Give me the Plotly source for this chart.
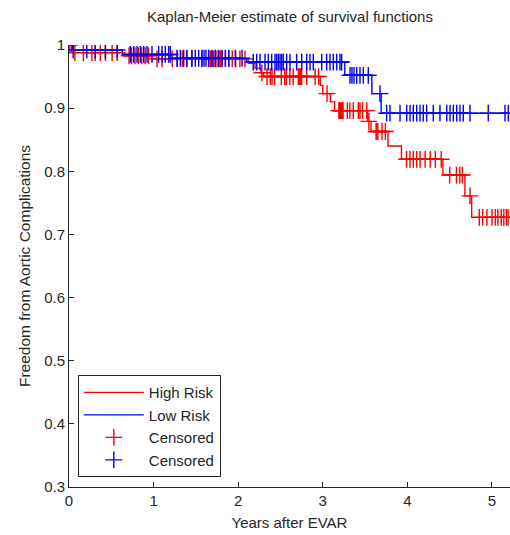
import bisect
import plotly.graph_objects as go

# ---- data ----
red_times = [0, 0.03, 0.66, 0.98, 2.12, 2.20, 2.27, 2.30, 2.97, 3.00, 3.09, 3.14,
             3.53, 3.57, 3.77, 3.93, 4.42, 4.68, 4.76, 5.20]
red_surv = [1.0, 0.988, 0.983, 0.978, 0.971, 0.963, 0.956, 0.950, 0.936, 0.923, 0.910, 0.896,
            0.879, 0.863, 0.840, 0.819, 0.794, 0.761, 0.727, 0.727]

blue_times = [0, 0.04, 0.63, 1.22, 2.10, 3.26, 3.58, 3.69, 5.20]
blue_surv = [1.0, 0.992, 0.985, 0.979, 0.973, 0.952, 0.923, 0.892, 0.892]

red_censored = [0.01, 0.07, 0.17, 0.27, 0.31, 0.37, 0.43, 0.51, 0.57,
                0.71, 0.74, 0.78, 0.82, 0.86, 0.90, 0.94,
                1.04, 1.10, 1.22, 1.28, 1.34, 1.39, 1.45, 1.57, 1.65, 1.67, 1.69, 1.71,
                1.73, 1.75, 1.77, 1.79, 1.81, 1.85, 1.89, 1.93, 1.97, 2.02, 2.08,
                2.28, 2.34, 2.38, 2.40, 2.43, 2.51, 2.55, 2.57, 2.61, 2.65, 2.71, 2.72,
                2.73, 2.74, 2.75, 2.81, 2.91, 2.95, 3.05,
                3.19, 3.20, 3.21, 3.22, 3.23, 3.24, 3.29, 3.32, 3.36, 3.42, 3.44, 3.47, 3.52,
                3.545, 3.63, 3.64, 3.65, 3.70, 3.74,
                3.99, 4.03, 4.07, 4.11, 4.15, 4.21, 4.27, 4.33, 4.40,
                4.50, 4.58, 4.62, 4.65, 4.74,
                4.85, 4.89, 4.94, 5.00, 5.04, 5.07, 5.11, 5.14, 5.17, 5.19]

blue_censored = [0.05, 0.21, 0.31, 0.43, 0.57,
                 0.725, 0.765, 0.804, 0.843, 0.883, 0.922, 0.981, 1.060, 1.099, 1.138, 1.178, 1.197,
                 1.277, 1.316, 1.356, 1.395, 1.454, 1.493, 1.533, 1.572, 1.596, 1.619, 1.651,
                 1.690, 1.729, 1.770, 1.809, 1.848, 1.888, 1.966, 2.045,
                 2.178, 2.219, 2.258, 2.317, 2.356, 2.396, 2.435, 2.455, 2.475, 2.495, 2.514,
                 2.533, 2.573, 2.612, 2.691, 2.751, 2.810, 2.849, 2.888, 2.987, 3.046, 3.085,
                 3.124, 3.164, 3.203, 3.223,
                 3.322, 3.345, 3.369, 3.401, 3.440, 3.479, 3.538, 3.676,
                 3.755, 3.794, 3.913, 3.992, 4.031, 4.070, 4.110, 4.149, 4.188, 4.228, 4.306,
                 4.385, 4.465, 4.504, 4.543, 4.583, 4.622, 4.661, 4.740, 4.956, 5.154, 5.193]

x_ticks = [0, 1, 2, 3, 4, 5]
y_ticks = [0.3, 0.4, 0.5, 0.6, 0.7, 0.8, 0.9, 1.0]
y_tick_labels = ["0.3", "0.4", "0.5", "0.6", "0.7", "0.8", "0.9", "1"]


def surv_at(t, times, surv):
    i = bisect.bisect_right(times, t) - 1
    return surv[max(i, 0)]


red_c_y = [surv_at(t, red_times, red_surv) for t in red_censored]
blue_c_y = [surv_at(t, blue_times, blue_surv) for t in blue_censored]

FONT = "Liberation Sans, Arial, sans-serif"
TXT = "#262626"
RED = "#ff0000"
BLUE = "#0000ff"

fig = go.Figure()
fig.add_trace(go.Scatter(x=red_times, y=red_surv, mode="lines", line_shape="hv",
                         line=dict(color=RED, width=1.4), name="High Risk", legendgroup="a"))
fig.add_trace(go.Scatter(x=blue_times, y=blue_surv, mode="lines", line_shape="hv",
                         line=dict(color=BLUE, width=1.4), name="Low Risk", legendgroup="b"))
fig.add_trace(go.Scatter(x=red_censored, y=red_c_y, mode="markers", name="Censored",
                         legendgroup="c",
                         marker=dict(symbol="cross-thin", size=12,
                                     line=dict(color=RED, width=1.4), color=RED)))
fig.add_trace(go.Scatter(x=blue_censored, y=blue_c_y, mode="markers", name="Censored",
                         legendgroup="d",
                         marker=dict(symbol="cross-thin", size=12,
                                     line=dict(color=BLUE, width=1.4), color=BLUE)))

axis_common = dict(showgrid=False, zeroline=False, showline=True, linecolor=TXT,
                   linewidth=1, ticks="inside", ticklen=5, tickcolor=TXT, automargin=False,
                   tickfont=dict(family=FONT, size=15, color=TXT))

fig.update_layout(
    width=510, height=535,
    margin=dict(l=69, r=0, t=45, b=48, autoexpand=False),
    paper_bgcolor="white", plot_bgcolor="white",
    title=dict(text="Kaplan-Meier estimate of survival functions", x=0.5686, xanchor="center",
               y=0.968, yanchor="middle", font=dict(family=FONT, size=15, color=TXT)),
    xaxis=dict(range=[0, 5.213], tickvals=x_ticks,
               title=dict(text="Years after EVAR", standoff=9,
                          font=dict(family=FONT, size=15, color=TXT)), **axis_common),
    yaxis=dict(range=[0.3, 1.0], tickvals=y_ticks, ticktext=y_tick_labels,
               title=dict(text="Freedom from Aortic Complications", standoff=9,
                          font=dict(family=FONT, size=15.5, color=TXT)), **axis_common),
    legend=dict(x=0.02, y=0.253, xanchor="left", yanchor="top", bgcolor="white",
                bordercolor=TXT, borderwidth=1, tracegroupgap=0, itemwidth=60,
                font=dict(family=FONT, size=15, color=TXT)),
    showlegend=True,
)

fig.write_html("out.html", config={"displayModeBar": False},
               post_script="document.body.style.margin='0';document.body.style.padding='0';")
